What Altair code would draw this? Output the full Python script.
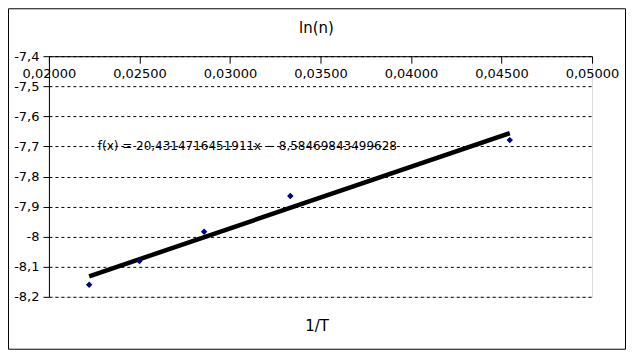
import altair as alt
import pandas as pd

# data
inv_T = [0.022222, 0.025000, 0.028571, 0.033333, 0.045455]
ln_n = [-8.160, -8.081, -7.984, -7.865, -7.679]

eq_text = ["f(x) = 20,4314716451911x − 8,58469843499628"]
eq_x = [0.0227]
eq_y = [-7.70]

x_ticks = [0.020, 0.025, 0.030, 0.035, 0.040, 0.045, 0.050]
y_ticks = [-8.2, -8.1, -8.0, -7.9, -7.8, -7.7, -7.6, -7.5, -7.4]

chart_title = ["ln(n)"]
x_title = "1/T"

pts = pd.DataFrame({"x": inv_T, "y": ln_n})
eq = pd.DataFrame({"x": eq_x, "y": eq_y, "t": eq_text})

W, H = 544, 241
FONT = "DejaVu Sans"

xscale = alt.Scale(domain=[0.02, 0.05], nice=False, zero=False)
yscale = alt.Scale(domain=[-8.2, -7.4], nice=False, zero=False)

xaxis = alt.Axis(
    orient="bottom", offset=-H, values=x_ticks, grid=False, labelOverlap=False,
    labelFlush=False,
    labelExpr="replace(format(datum.value, '.5f'), '.', ',')",
    domainColor="black", tickColor="black", tickSize=7, labelPadding=4,
    labelFont=FONT, labelFontSize=13, labelColor="black",
    title=x_title, titleX=268, titleY=270, titleBaseline="middle",
    titleFont=FONT, titleFontSize=15, titleFontWeight="normal", titleColor="black",
)
yaxis = alt.Axis(
    orient="left", values=y_ticks, grid=True, gridColor="black", gridDash=[3, 3],
    gridOpacity=1, gridWidth=1, labelOverlap=False, labelFlush=False, tickCount=9,
    labelExpr="replace(replace(format(datum.value, '.1~f'), '.', ','), '\u2212', '-')",
    domainColor="black", tickColor="black", tickSize=6, labelPadding=4,
    labelFont=FONT, labelFontSize=13, labelColor="black", title=None,
)

X = alt.X("x:Q", scale=xscale, axis=xaxis)
Y = alt.Y("y:Q", scale=yscale, axis=yaxis)

base = alt.Chart(pts).encode(x=X, y=Y)

points = base.mark_point(shape="diamond", filled=True, color="#000080", size=42, opacity=1)

trend = base.transform_regression("x", "y").mark_line(color="black", strokeWidth=4.5)

label = alt.Chart(eq).mark_text(align="left", baseline="middle", font=FONT, fontSize=12, color="black").encode(
    x=X, y=Y, text="t:N",
)

title = alt.Chart(pd.DataFrame({"t": chart_title})).mark_text(
    align="center", baseline="middle", font=FONT, fontSize=15, color="black"
).encode(x=alt.value(268), y=alt.value(-28), text="t:N")

frame = alt.Chart(pd.DataFrame({"a": [0]})).mark_rect(fill=None, stroke="black", strokeWidth=1).encode(
    x=alt.value(-40.5), x2=alt.value(W + 34 - 0.5),
    y=alt.value(-47.5), y2=alt.value(H + 53 - 0.5),
)

chart = alt.layer(trend, points, label, title, frame).properties(
    width=W, height=H,
    autosize=alt.AutoSizeParams(type="none"),
    padding={"left": 41, "top": 48, "right": 35, "bottom": 54},
).configure_view(stroke=None).configure(background="white")

chart.save("out.html", embed_options={"renderer": "svg", "actions": False})
